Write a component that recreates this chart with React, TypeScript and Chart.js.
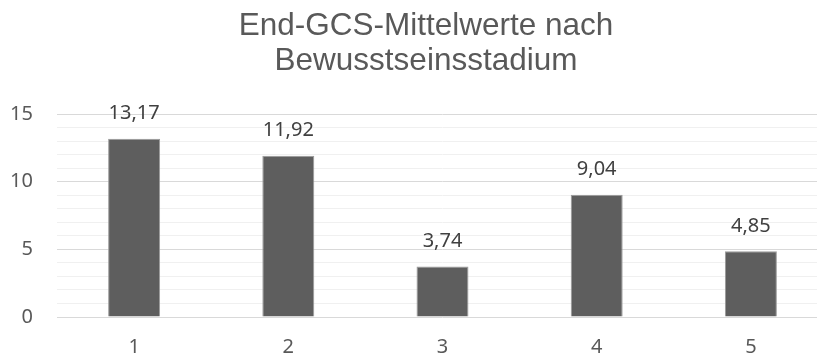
import React, { useEffect, useRef } from "react";
import { Chart, registerables } from "chart.js";

Chart.register(...registerables);

const categories: string[] = ["1", "2", "3", "4", "5"];
const meanValues: number[] = [13.17, 11.92, 3.74, 9.04, 4.85];
const titleLines: string[] = ["End-GCS-Mittelwerte nach", "Bewusstseinsstadium"];
const yMin = 0;
const yMax = 15;
const yMajorStep = 5;

const dataLabelPlugin = {
  id: "dataLabels",
  afterDatasetsDraw(chart: any) {
    const ctx = chart.ctx;
    const meta = chart.getDatasetMeta(0);
    ctx.save();
    ctx.font = "20px 'Noto Sans'";
    ctx.fillStyle = "#404040";
    ctx.textAlign = "center";
    ctx.textBaseline = "middle";
    meta.data.forEach((bar: any, i: number) => {
      const v = chart.data.datasets[0].data[i] as number;
      ctx.fillText(v.toFixed(2).replace(".", ","), bar.x, bar.y - 25);
    });
    ctx.restore();
  },
};

export default function App() {
  const ref = useRef<HTMLCanvasElement>(null);
  useEffect(() => {
    document.body.style.margin = "0";
    const chart = new Chart(ref.current!, {
      type: "bar",
      data: {
        labels: categories,
        datasets: [
          {
            data: meanValues,
            backgroundColor: "#5e5e5e",
            borderColor: "#9a9a9a",
            borderWidth: 1,
            barPercentage: 0.337,
            categoryPercentage: 1,
          },
        ],
      },
      options: {
        responsive: false,
        animation: false,
        devicePixelRatio: 1,
        layout: { padding: 0 },
        plugins: {
          legend: { display: false },
          tooltip: { enabled: false },
          title: {
            display: true,
            text: titleLines,
            color: "#595959",
            font: { family: "'Liberation Sans', Arial", size: 31.5, weight: "normal", lineHeight: "35px" },
            padding: { top: 9, bottom: 35 },
          },
        },
        scales: {
          x: {
            grid: { display: false, drawTicks: false },
            border: { display: false },
            ticks: {
              color: "#595959",
              font: { family: "'Noto Sans'", size: 20 },
              padding: 18.5,
            },
            afterFit(scale: any) {
              scale.height = 41;
            },
          },
          y: {
            min: yMin,
            max: yMax,
            border: { display: false },
            grid: {
              drawTicks: false,
              color: (c: any) => (c.tick && c.tick.value % yMajorStep === 0 ? "#d9d9d9" : "#f0f0f0"),
              lineWidth: 1,
            },
            ticks: {
              stepSize: 1,
              autoSkip: false,
              color: "#595959",
              font: { family: "'Noto Sans'", size: 20 },
              padding: 24,
              callback: (v: any) => (Number(v) % yMajorStep === 0 ? String(v) : ""),
            },
            afterFit(scale: any) {
              scale.width = 57;
            },
          },
          yRight: {
            position: "right",
            min: yMin,
            max: yMax,
            grid: { display: false, drawTicks: false },
            border: { display: false },
            ticks: { display: false },
            afterFit(scale: any) {
              scale.width = 24;
            },
          },
        },
      },
      plugins: [dataLabelPlugin],
    } as any);
    return () => chart.destroy();
  }, []);
  return (
    <div style={{ position: "fixed", left: 0, top: 0, width: 817, height: 358, overflow: "hidden", background: "#fff" }}>
      <canvas ref={ref} width={852} height={358} />
    </div>
  );
}
